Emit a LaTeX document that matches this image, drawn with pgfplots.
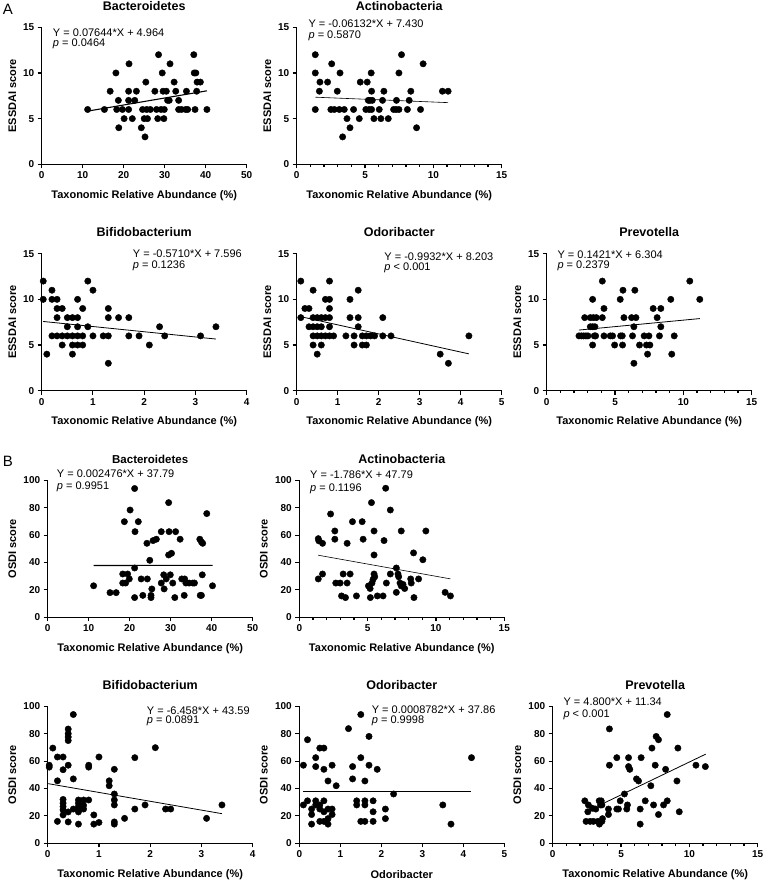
\documentclass[border=0pt]{standalone}
\usepackage{fontspec}
\setmainfont{Liberation Sans}
\usepackage{pgfplots}
\pgfplotsset{compat=1.18}
\tikzset{eq/.style={anchor=west, font=\fontsize{11}{13}\selectfont, inner sep=0pt}}
\pgfplotsset{
  panel/.style={
    width=205pt, height=137pt, scale only axis, anchor=south west,
    axis x line*=bottom, axis y line*=left,
    axis line style={line width=1.1pt,-},
    every tick/.style={line width=1.1pt, black},
    tick align=outside, major tick length=4pt, minor tick length=2.5pt,
    xmin=0, ymin=0, clip=false,
    /pgf/number format/assume math mode=true,
    ticklabel style={font=\bfseries\fontsize{10}{12}\selectfont},
    label style={font=\bfseries\fontsize{11}{13}\selectfont},
    title style={font=\bfseries\fontsize{12.5}{15}\selectfont, at={(axis description cs:0.5,1)}, anchor=base, inner sep=0pt, yshift=11pt},
    xlabel style={at={(axis description cs:0.5,-0.227)}, anchor=center},
    xlabel={Taxonomic Relative Abundance (\%)},
  },
  pa/.style={panel, ymax=15, ytick={0,5,10,15}, ylabel={ESSDAI score},
    ylabel style={at={(axis description cs:-0.143,0.5)}, anchor=center}},
  pb/.style={panel, ymax=100, ytick={0,20,...,100}, ylabel={OSDI score},
    ylabel style={at={(axis description cs:-0.173,0.5)}, anchor=center}},
  x50/.style={xmax=50, xtick={0,10,...,50}},
  x15/.style={xmax=15, xtick={0,5,10,15}, minor x tick num=4},
  x4/.style={xmax=4, xtick={0,1,2,3,4}},
  x5/.style={xmax=5, xtick={0,1,2,3,4,5}},
  dots/.style={only marks, mark=*, mark size=3.2pt, black},
  regline/.style={black, no markers, line width=0.8pt},
}
\begin{document}
\begin{tikzpicture}
\useasboundingbox (0pt,0pt) rectangle (764pt,881pt);
\node[font=\fontsize{15}{18}\selectfont] at (8pt,872pt) {A};
\node[font=\fontsize{15}{18}\selectfont] at (8pt,420pt) {B};

% ---------- A1
\begin{axis}[pa, x50, at={(41.7pt,716.7pt)}, title={Bacteroidetes}]
\addplot[dots] table {
11.2 6
15.3 6
16.7 8
18.1 10
18.7 7
18.3 6
18.8 4
19.7 6
20.1 5
21.3 11
21.2 8
21.2 7
21.2 6
22.1 5
22.7 7
23.1 8
24.3 4
24.6 6
25.0 5
25.2 3
25.4 9
25.6 6
25.8 5
26.5 6
27.6 8
28.0 6
28.5 12
28.3 5
29.1 6
29.4 10
29.6 8
29.8 5
29.9 6
30.4 8
30.7 7
31.1 7
31.3 11
32.3 9
32.7 8
33.4 7
33.4 6
34.1 6
35.1 6
35.3 8
35.6 6
37.1 12
37.2 10
37.6 10
37.8 8
37.4 6
37.9 9
38.7 9
40.3 6
};
\addplot[regline, line width=1.1pt] coordinates {(11.2,5.82) (40.3,8.045)};
\node[eq] at (rel axis cs:0.054,0.964) {Y = 0.07644*X + 4.964};
\node[eq] at (rel axis cs:0.054,0.876) {\textit{p} = 0.0464};
\end{axis}

% ---------- A2
\begin{axis}[pa, x15, at={(296.7pt,716.7pt)}, title={Actinobacteria}]
\addplot[dots] table {
1.36 12
1.36 10
1.36 6
1.7 9
1.66 8
2.26 9
2.56 11
2.5 6
2.75 6
2.97 8
3.17 10
3.12 6
3.36 3
3.48 6
3.68 5
3.9 4
4.16 6
4.58 5
4.65 9
5.06 6
5.16 9
5.24 7
5.3 6
5.36 7
5.45 10
5.48 8
5.48 6
5.53 7
5.65 5
6.04 6
6.16 5
6.28 7
6.38 8
6.7 5
7.09 6
7.3 7
7.28 6
7.48 10
7.48 6
7.67 12
8.1 6
8.23 7
8.35 8
8.77 4
9.06 6
9.25 11
10.66 8
11.08 8
};
\addplot[regline, line width=0.6pt] coordinates {(1.36,7.347) (11.08,6.751)};
\node[eq] at (rel axis cs:0.057,1.024) {Y = -0.06132*X + 7.430};
\node[eq] at (rel axis cs:0.057,0.936) {\textit{p} = 0.5870};
\end{axis}

% ---------- A3
\begin{axis}[pa, x4, at={(41.7pt,490.3pt)}, title={Bifidobacterium}]
\addplot[dots] table {
0.03 12
0.03 10
0.1 4
0.2 11
0.2 10
0.2 6
0.3 10
0.3 9
0.3 8
0.3 6
0.4 9
0.4 6
0.4 5
0.5 8
0.5 7
0.5 6
0.6 8
0.6 6
0.6 5
0.6 4
0.7 10
0.7 8
0.7 7
0.7 6
0.7 5
0.8 9
0.8 6
0.8 5
0.9 12
0.9 7
1.0 11
1.0 6
1.2 6
1.3 9
1.3 8
1.3 6
1.3 3
1.5 8
1.7 8
1.7 6
1.9 6
2.1 5
2.3 7
2.4 6
3.1 6
3.4 7
};
\addplot[regline] coordinates {(0.03,7.579) (3.4,5.655)};
\node[eq] at (rel axis cs:0.444,1.0) {Y = -0.5710*X + 7.596};
\node[eq] at (rel axis cs:0.444,0.912) {\textit{p} = 0.1236};
\end{axis}

% ---------- A4
\begin{axis}[pa, x5, at={(296.7pt,490.3pt)}, title={Odoribacter}]
\addplot[dots] table {
0.1 12
0.1 8
0.2 9
0.3 9
0.3 7
0.4 11
0.4 8
0.4 7
0.4 6
0.4 5
0.5 8
0.5 7
0.5 6
0.5 4
0.6 8
0.6 7
0.6 6
0.6 5
0.7 10
0.7 8
0.7 6
0.8 12
0.8 10
0.8 9
0.8 8
0.8 7
0.8 6
0.9 6
1.2 6
1.3 10
1.3 8
1.4 6
1.4 5
1.5 11
1.5 8
1.5 7
1.6 6
1.6 5
1.7 5
1.7 6
1.8 6
1.9 6
2.1 8
2.1 6
2.3 6
3.5 4
3.7 3
4.2 6
};
\addplot[regline] coordinates {(0.1,8.104) (4.2,4.032)};
\node[eq] at (rel axis cs:0.427,0.978) {Y = -0.9932*X + 8.203};
\node[eq] at (rel axis cs:0.427,0.898) {\textit{p} < 0.001};
\end{axis}

% ---------- A5
\begin{axis}[pa, x15, at={(546.7pt,490.3pt)}, title={Prevotella}]
\addplot[dots] table {
2.36 6
2.53 6
2.7 6
2.78 8
2.87 6
3.02 6
3.19 7
3.19 8
3.36 10
3.36 7
3.36 5
3.41 8
3.48 6
3.53 7
3.58 6
3.63 8
4.07 8
4.07 12
4.19 9
4.19 6
4.65 6
4.82 6
4.97 5
5.38 10
5.41 6
5.53 6
5.55 5
5.58 11
5.65 8
6.21 8
6.28 6
6.38 7
6.38 3
6.45 11
6.53 8
6.79 5
7.13 6
7.3 5
7.38 4
7.48 6
7.55 5
7.79 9
8.08 8
8.25 6
8.35 9
8.35 7
9.08 10
9.15 4
9.33 6
10.47 12
11.2 10
};
\addplot[regline] coordinates {(2.36,6.639) (11.2,7.896)};
\node[eq] at (rel axis cs:0.052,0.995) {Y = 0.1421*X + 6.304};
\node[eq] at (rel axis cs:0.052,0.912) {\textit{p} = 0.2379};
\end{axis}

% ---------- B1
\begin{axis}[pb, x50, at={(47.7pt,263.7pt)}, title={Bacteroidetes}, title style={font=\bfseries\fontsize{11.5}{14}\selectfont}]
\addplot[dots] table {
11.2 23
15.2 18
16.7 18
18.7 69.8
18.3 25
18.3 31.6
19.0 25
19.5 31.6
19.9 28
20.1 78.3
21.2 94
21.3 62.5
21.2 14.4
21.2 36
22.1 69.8
22.8 28
23.2 16
24.2 54
24.3 28
24.9 41.6
25.2 16
25.2 14.4
25.4 20.7
25.7 56
26.5 57
27.7 62.5
27.7 25
28.3 31
28.4 20.7
28.9 28
29.5 83.7
29.6 62.5
29.5 45.5
29.9 31
30.2 46.7
30.5 25
31.0 14.4
31.2 62.5
32.3 57
32.7 28
33.4 28
33.3 16
33.7 25
34.5 25
35.4 25
35.8 25
37.1 57
37.2 16
37.5 55
37.5 16
37.7 31
37.8 54
38.8 75.7
40.2 23
};
\addplot[regline, line width=1.1pt] coordinates {(11.2,37.82) (40.2,37.89)};
\node[eq] at (rel axis cs:0.044,1.051) {Y = 0.002476*X + 37.79};
\node[eq] at (rel axis cs:0.044,0.953) {\textit{p} = 0.9951};
\end{axis}

% ---------- B2
\begin{axis}[pb, x15, at={(299.3pt,263.7pt)}, title={Actinobacteria}]
\addplot[dots] table {
1.39 57.4
1.43 55.8
1.39 28
1.7 54
1.7 31.6
2.29 75.4
2.6 63
2.6 57
2.67 25
2.99 25
3.09 15.6
3.21 31.6
3.38 14.4
3.5 54
3.5 25
3.72 31.6
3.89 69.8
4.18 15.6
4.6 69.8
4.67 57
5.06 22.9
5.2 14.4
5.18 21
5.28 83.7
5.32 25
5.4 27.7
5.47 45.5
5.47 63
5.47 31.6
5.52 29.6
5.71 15.6
6.13 15.6
6.2 56
6.32 94.2
6.37 25
6.66 78.3
6.66 31.6
7.1 36
7.1 18.2
7.22 31.6
7.27 29.6
7.37 25
7.46 63
7.46 22.9
7.59 24
7.71 21
8.15 28
8.19 25
8.36 47
8.39 14.4
8.73 28
9.04 42
9.26 63
10.67 18.2
11.06 15.6
};
\addplot[regline, line width=0.6pt] coordinates {(1.39,45.31) (11.06,28.04)};
\node[eq] at (rel axis cs:0.052,1.039) {Y = -1.786*X + 47.79};
\node[eq] at (rel axis cs:0.052,0.936) {\textit{p} = 0.1196};
\end{axis}

% ---------- B3
\begin{axis}[pb, x4, at={(47.7pt,37.7pt)}, title={Bifidobacterium}]
\addplot[dots] table {
0.03 57
0.03 55.6
0.1 69.5
0.19 63
0.19 45.6
0.19 16
0.3 63
0.3 53.7
0.3 32
0.3 29.3
0.3 26.8
0.3 24.4
0.3 20.7
0.4 83.4
0.4 80
0.4 77.6
0.4 75
0.4 57
0.4 22.9
0.4 15.6
0.5 94
0.5 47
0.5 25
0.6 31.6
0.6 29.3
0.6 26.8
0.6 24.4
0.6 22.9
0.6 14
0.7 31.6
0.7 27.7
0.7 25
0.8 57
0.8 55.6
0.8 31.6
0.9 20.7
0.9 14
1.0 63
1.0 15.2
1.2 45.6
1.2 42
1.3 54
1.3 36
1.3 31.6
1.3 28
1.3 15.6
1.3 14
1.5 18.2
1.7 62.5
1.7 25
1.9 28
2.1 69.8
2.3 25
2.4 25
3.1 18.2
3.4 28
};
\addplot[regline] coordinates {(0.01,43.53) (3.4,21.63)};
\node[eq] at (rel axis cs:0.483,0.971) {Y = -6.458*X + 43.59};
\node[eq] at (rel axis cs:0.483,0.891) {\textit{p} = 0.0891};
\end{axis}

% ---------- B4
\begin{axis}[pb, x5, at={(299.3pt,37.7pt)}, title={Odoribacter}, xlabel={Odoribacter}]
\addplot[dots] table {
0.1 28
0.1 57
0.2 75.6
0.2 31
0.3 21
0.3 14
0.3 25
0.4 31
0.4 62.5
0.4 56
0.4 28
0.5 69.5
0.6 69.5
0.5 28
0.5 25
0.5 16
0.6 54
0.6 31
0.6 23
0.6 16
0.7 45.5
0.7 25
0.7 18
0.7 14
0.8 57
0.8 25
0.8 21
0.9 42
1.2 83.7
1.3 56
1.3 47
1.5 94
1.5 62.5
1.4 31
1.4 28
1.5 16
1.6 45.5
1.6 31
1.6 28
1.6 16
1.7 78
1.7 57
1.8 31
1.8 23
1.8 16
1.9 54
2.1 25
2.1 18
2.3 36
3.5 28
3.7 14
4.2 62.5
};
\addplot[regline, line width=0.6pt] coordinates {(0.1,37.86) (4.2,37.86)};
\node[eq] at (rel axis cs:0.353,0.976) {Y = 0.0008782*X + 37.86};
\node[eq] at (rel axis cs:0.353,0.891) {\textit{p} = 0.9998};
\end{axis}

% ---------- B5
\begin{axis}[pb, x15, at={(552.7pt,37.7pt)}, title={Prevotella}]
\addplot[dots] table {
2.35 31
2.44 16
2.61 28
2.57 23
2.74 16
2.9 25.6
2.98 16
3.15 25
3.3 16
3.4 31
3.42 14
3.5 28
3.55 31
3.6 16
3.64 18
3.6 28
4.08 25
4.08 21
4.15 83.5
4.15 57
4.69 62.5
4.69 25
4.81 25
4.94 31
5.25 36
5.42 25
5.47 28
5.55 62.5
5.55 56
5.64 54
6.13 47
6.28 45.5
6.4 14
6.4 25
6.47 62.5
6.77 31
7.18 42
7.26 69.5
7.38 28
7.5 57
7.57 78
7.74 75.6
7.74 21
8.11 28
8.26 54
8.38 94
8.38 31
9.09 45.5
9.16 69.5
9.26 23
10.48 57
11.17 56
};
\addplot[regline] coordinates {(3.7,29.1) (11.2,65.1)};
\node[eq] at (rel axis cs:0.052,1.032) {Y = 4.800*X + 11.34};
\node[eq] at (rel axis cs:0.052,0.94) {\textit{p} < 0.001};
\end{axis}
\end{tikzpicture}
\end{document}
